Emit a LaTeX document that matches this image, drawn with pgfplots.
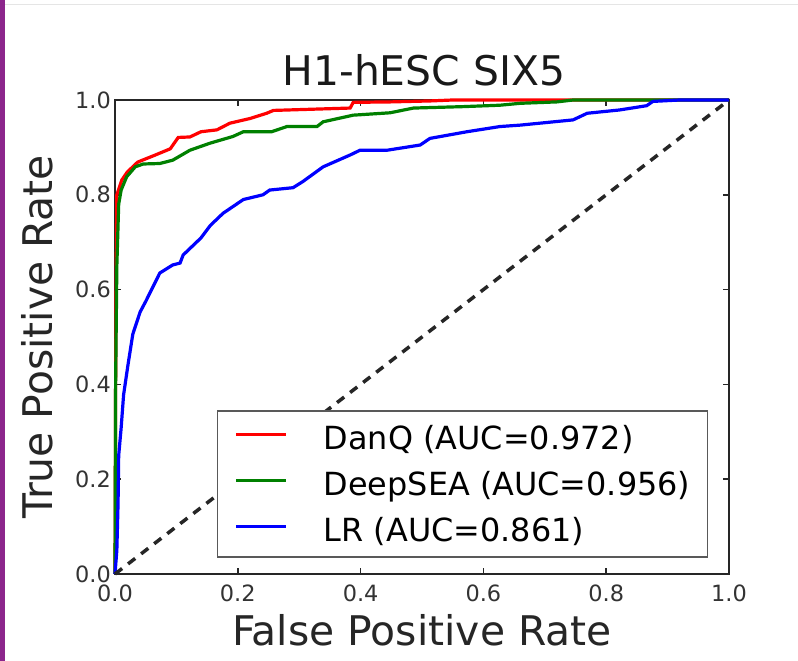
\documentclass[border=0pt]{standalone}
\usepackage{fontspec}
\setmainfont{DejaVu Sans}
\usepackage{pgfplots}
\pgfplotsset{compat=1.18}

\definecolor{mplred}{RGB}{255,0,0}
\definecolor{mplgreen}{RGB}{0,128,0}
\definecolor{mplblue}{RGB}{0,0,255}
\definecolor{sidebar}{RGB}{140,38,140}

\begin{document}
\begin{tikzpicture}
    \useasboundingbox (0,0) rectangle (798bp,661bp);
    \fill[white] (0,0) rectangle (798bp,661bp);
    \fill[sidebar] (0,0) rectangle (5bp,661bp);
    \draw[black!10, line width=1bp] (5bp,656bp) -- (798bp,656bp);
    \begin{axis}[
        at={(115bp,87bp)}, anchor=south west,
        scale only axis,
        width=614bp, height=474bp,
        xmin=0, xmax=1, ymin=0, ymax=1,
        clip=false,
        xtick={0,0.2,0.4,0.6,0.8,1},
        ytick={0,0.2,0.4,0.6,0.8,1},
        xticklabels={0.0,0.2,0.4,0.6,0.8,1.0},
        yticklabels={0.0,0.2,0.4,0.6,0.8,1.0},
        /pgf/number format/assume math mode=true,
        axis line style={black!85, line width=1.8bp},
        tick style={black!85, line width=1.5bp},
        major tick length=6bp,
        tick label style={font=\fontsize{22.5}{26}\selectfont, text=black!80},
        xticklabel style={anchor=base, inner sep=0bp, yshift=-27bp},
        yticklabel style={anchor=east, inner sep=0bp, xshift=-4bp},
        title={H1-hESC SIX5},
        title style={font=\fontsize{41}{48}\selectfont, text=black!90,
            at={(axis description cs:0.503,1.017)}, anchor=base},
        xlabel={False Positive Rate},
        ylabel={True Positive Rate},
        label style={font=\fontsize{41}{48}\selectfont, text=black!85},
        xlabel style={at={(axis description cs:0.5,-0.1498)}, anchor=base},
        ylabel style={at={(axis description cs:-0.101,0.5)}, anchor=base},
        legend style={
            at={(0.966,0.034)}, anchor=south east,
            draw=black!65, line width=1.5bp,
            font=\fontsize{32}{38}\selectfont,
            inner xsep=17bp, inner ysep=14bp,
            row sep=20.5bp, column sep=36bp,
            nodes={inner sep=0bp},
        },
        legend cell align=left,
        legend image code/.code={\draw[#1] (0bp,0.36em) -- (50bp,0.36em);},
    ]
        \addplot[mplred, line width=3.2bp] coordinates {
            (0,0) (0.001,0.40) (0.002,0.65) (0.003,0.80) (0.011,0.831)
            (0.020,0.848) (0.037,0.869) (0.062,0.882) (0.090,0.897)
            (0.103,0.921) (0.122,0.922) (0.140,0.933) (0.166,0.937)
            (0.187,0.951) (0.220,0.961) (0.247,0.972) (0.258,0.978)
            (0.383,0.983) (0.388,0.995) (0.450,0.996) (0.513,0.998)
            (0.550,1.0) (1,1)
        };
        \addlegendentry{DanQ (AUC=0.972)}
        \addplot[mplgreen, line width=3.2bp] coordinates {
            (0,0) (0.001,0.40) (0.003,0.65) (0.006,0.78) (0.010,0.81)
            (0.019,0.838) (0.033,0.859) (0.046,0.865) (0.073,0.866)
            (0.094,0.873) (0.122,0.894) (0.155,0.909) (0.192,0.923)
            (0.209,0.933) (0.255,0.933) (0.280,0.944) (0.329,0.944)
            (0.339,0.954) (0.388,0.968) (0.448,0.973) (0.486,0.983)
            (0.567,0.986) (0.627,0.989) (0.660,0.993) (0.720,0.996)
            (0.746,1.0) (1,1)
        };
        \addlegendentry{DeepSEA (AUC=0.956)}
        \addplot[mplblue, line width=3.2bp] coordinates {
            (0,0) (0.003,0.05) (0.005,0.15) (0.006,0.25) (0.010,0.308)
            (0.014,0.378) (0.021,0.440) (0.029,0.506) (0.041,0.553)
            (0.050,0.575) (0.073,0.635) (0.094,0.652) (0.106,0.656)
            (0.111,0.673) (0.140,0.709) (0.155,0.735) (0.176,0.761)
            (0.209,0.790) (0.241,0.800) (0.252,0.810) (0.290,0.815)
            (0.306,0.828) (0.339,0.859) (0.383,0.884) (0.399,0.894)
            (0.443,0.894) (0.497,0.905) (0.513,0.919) (0.573,0.933)
            (0.627,0.944) (0.660,0.947) (0.746,0.958) (0.769,0.972)
            (0.822,0.979) (0.866,0.988) (0.876,0.997) (0.920,1.0) (1,1)
        };
        \addlegendentry{LR (AUC=0.861)}
        \addplot[black!85, line width=3.5bp, dash pattern=on 9bp off 7.5bp,
            forget plot] coordinates {(0,0) (1,1)};
    \end{axis}
\end{tikzpicture}
\end{document}
